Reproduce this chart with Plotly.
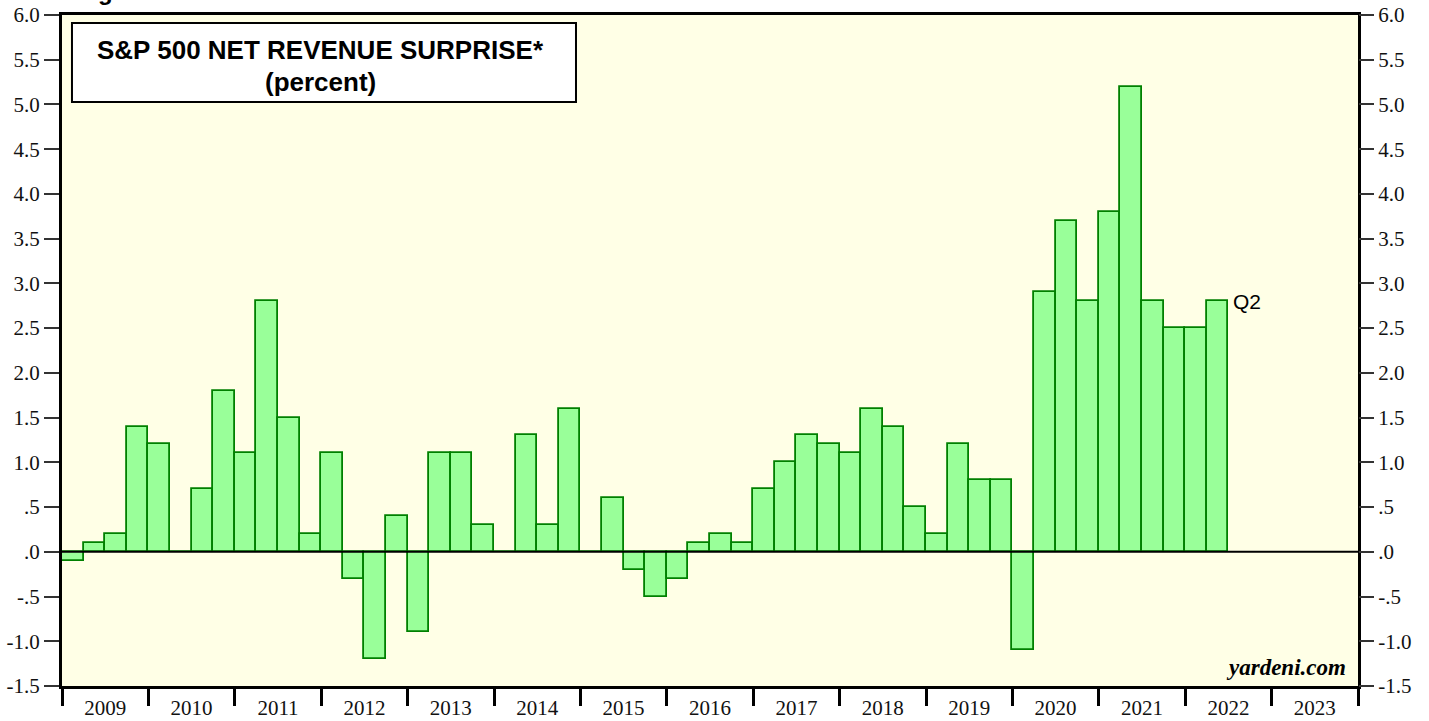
import plotly.graph_objects as go

# quarterly net revenue surprise, 2009Q1 .. 2022Q2
years = [2009, 2010, 2011, 2012, 2013, 2014, 2015, 2016, 2017, 2018, 2019, 2020, 2021, 2022]
surprise_by_year = {
    2009: [-0.1, 0.1, 0.2, 1.4],
    2010: [1.2, 0.0, 0.7, 1.8],
    2011: [1.1, 2.8, 1.5, 0.2],
    2012: [1.1, -0.3, -1.2, 0.4],
    2013: [-0.9, 1.1, 1.1, 0.3],
    2014: [0.0, 1.3, 0.3, 1.6],
    2015: [0.0, 0.6, -0.2, -0.5],
    2016: [-0.3, 0.1, 0.2, 0.1],
    2017: [0.7, 1.0, 1.3, 1.2],
    2018: [1.1, 1.6, 1.4, 0.5],
    2019: [0.2, 1.2, 0.8, 0.8],
    2020: [-1.1, 2.9, 3.7, 2.8],
    2021: [3.8, 5.2, 2.8, 2.5],
    2022: [2.5, 2.8],
}
axis_years = list(range(2009, 2024))
y_ticks = [-1.5, -1.0, -0.5, 0.0, 0.5, 1.0, 1.5, 2.0, 2.5, 3.0, 3.5, 4.0, 4.5, 5.0, 5.5, 6.0]
y_labels = ["-1.5", "-1.0", "-.5", ".0", ".5", "1.0", "1.5", "2.0", "2.5", "3.0",
            "3.5", "4.0", "4.5", "5.0", "5.5", "6.0"]

xs, vals = [], []
for yr in years:
    for q, v in enumerate(surprise_by_year[yr]):
        xs.append(yr + q / 4 + 0.125)
        vals.append(v)

fig = go.Figure()
fig.add_trace(go.Bar(
    x=xs, y=vals, width=0.25,
    marker=dict(color="#99FF99", line=dict(color="#008000", width=1.8)),
    showlegend=False, hoverinfo="x+y",
))
# dummy trace so the right-hand axis is drawn
fig.add_trace(go.Scatter(x=[2009], y=[0], yaxis="y2", mode="markers",
                         marker=dict(opacity=0), showlegend=False, hoverinfo="skip"))

tickfont = dict(family="Liberation Serif, Times New Roman, serif", size=21, color="#111")
sans = "Liberation Sans, Arial, sans-serif"

fig.update_layout(
    width=1429, height=721,
    margin=dict(l=62, r=71, t=15, b=35),
    paper_bgcolor="white",
    plot_bgcolor="#FFFFE6",
    bargap=0,
    xaxis=dict(
        range=[2009, 2024],
        automargin=False,
        tickmode="array",
        tickvals=[y + 0.5 for y in axis_years],
        ticktext=[str(y) for y in axis_years],
        ticks="",
        ticklabelstandoff=1,
        ticklabeloverflow="allow",
        tickfont=tickfont,
        showgrid=False, zeroline=False,
        showline=True, linecolor="black", linewidth=3, mirror=True,
        minor=dict(tickmode="array", tickvals=list(range(2009, 2025)),
                   ticks="outside", ticklen=17, tickwidth=3, tickcolor="black",
                   showgrid=False),
    ),
    yaxis=dict(
        range=[-1.5, 6.0],
        automargin=False,
        tickmode="array", tickvals=y_ticks, ticktext=y_labels,
        ticks="outside", ticklen=15, tickwidth=1.5, tickcolor="#333",
        ticklabeloverflow="allow",
        tickfont=tickfont,
        showgrid=False, zeroline=False,
        showline=True, linecolor="black", linewidth=3, mirror=True,
    ),
    yaxis2=dict(
        range=[-1.5, 6.0], overlaying="y", side="right",
        automargin=False,
        tickmode="array", tickvals=y_ticks, ticktext=y_labels,
        ticks="outside", ticklen=15, tickwidth=1.5, tickcolor="#333",
        ticklabeloverflow="allow",
        tickfont=tickfont,
        showgrid=False, zeroline=False, showline=False,
    ),
)

# zero line above bars
fig.add_shape(type="line", xref="paper", yref="y", x0=0, x1=1, y0=0, y1=0,
              line=dict(color="black", width=2))

# title box
fig.add_shape(type="rect", xref="paper", yref="paper",
              x0=0.0077, x1=0.3966, y0=0.8703, y1=0.988,
              line=dict(color="black", width=2), fillcolor="white")
fig.add_annotation(
    xref="paper", yref="paper", x=0.1995, y=0.9478, xanchor="center", yanchor="middle",
    showarrow=False, text="<b>S&P 500 NET REVENUE SURPRISE*</b>",
    font=dict(family=sans, size=26, color="black"),
)
fig.add_annotation(
    xref="paper", yref="paper", x=0.1995, y=0.9001, xanchor="center", yanchor="middle",
    showarrow=False, text="<b>(percent)</b>",
    font=dict(family=sans, size=26, color="black"),
)

# heading above the chart, mostly cut off by the page top in the original
fig.add_annotation(
    xref="paper", yref="paper", x=(105 - 62) / 1296, y=(686 - 7) / 671,
    xanchor="center", yanchor="bottom", showarrow=False,
    text="<b>g</b>",
    font=dict(family=sans, size=24, color="black"),
)

# latest quarter label
fig.add_annotation(x=xs[-1] + 0.16, y=vals[-1], xanchor="left", yanchor="middle",
                   showarrow=False, text="Q2",
                   font=dict(family=sans, size=21, color="black"))

fig.add_annotation(
    xref="paper", yref="paper", x=0.992, y=0.006, xanchor="right", yanchor="bottom",
    showarrow=False, text="<b><i>yardeni.com</i></b>",
    font=dict(family="Liberation Serif, Times New Roman, serif", size=23, color="black"),
)

# drop the default page margin so the figure sits at the window's corner
fig.write_html("out.html", config={"displayModeBar": False},
               post_script="document.body.style.margin = '0';")
